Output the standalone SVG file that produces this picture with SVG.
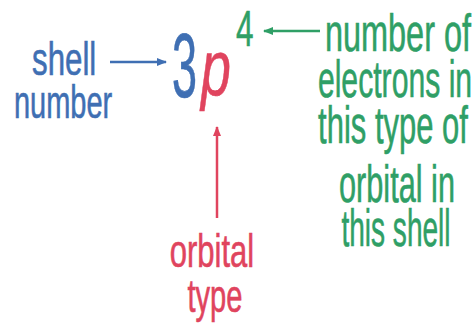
<svg xmlns="http://www.w3.org/2000/svg" width="475" height="327" viewBox="0 0 475 327">
<style>
text{font-family:"Liberation Sans",Arial,sans-serif;stroke-width:0.6}
.b{fill:#3f6fb3;stroke:#3f6fb3}.r{fill:#e0445e;stroke:#e0445e}.g{fill:#2f9f66;stroke:#2f9f66}
.lb{font-size:46px}
.lg{font-size:52px}
.lr{font-size:47px}
</style>
<defs>
<marker id="ab" markerWidth="11" markerHeight="10" refX="9" refY="5" orient="auto" markerUnits="userSpaceOnUse"><path d="M0,1 L10,5 L0,9 z" fill="#3f6fb3"/></marker>
<marker id="ag" markerWidth="11" markerHeight="10" refX="9" refY="5" orient="auto" markerUnits="userSpaceOnUse"><path d="M0,1 L10,5 L0,9 z" fill="#2f9f66"/></marker>
<marker id="ar" markerWidth="11" markerHeight="10" refX="9" refY="5" orient="auto" markerUnits="userSpaceOnUse"><path d="M0,1 L10,5 L0,9 z" fill="#e0445e"/></marker>
</defs>
<rect width="475" height="327" fill="#fff"/>
<g id="shell-label" class="b lb">
<text transform="translate(32,75) scale(0.68,1)">shell</text>
<text transform="translate(14,118) scale(0.63,1)">number</text>
</g>
<g id="formula">
<text class="b" font-size="90" transform="translate(172,97) scale(0.5,1)">3</text>
<text class="r" font-size="78" font-style="italic" transform="translate(201,95) scale(0.69,1)">p</text>
<text class="g" font-size="50" transform="translate(236,46) scale(0.63,1)">4</text>
</g>
<g id="electrons-label" class="g lg" text-anchor="middle">
<text transform="translate(398,51) scale(0.624,1)">number of</text>
<text transform="translate(395,97) scale(0.58,1)">electrons in</text>
<text transform="translate(393,143) scale(0.596,1)">this type of</text>
<text transform="translate(397,202) scale(0.59,1)">orbital in</text>
<text transform="translate(396,246) scale(0.54,1)">this shell</text>
</g>
<g id="orbital-label" class="r lr" text-anchor="middle">
<text transform="translate(212,267) scale(0.66,1)">orbital</text>
<text transform="translate(215,312) scale(0.62,1)">type</text>
</g>
<g id="connectors" stroke-width="2.5" fill="none">
<line x1="110" y1="62" x2="166" y2="62" stroke="#3f6fb3" marker-end="url(#ab)"/>
<line x1="320" y1="31" x2="264" y2="31" stroke="#2f9f66" marker-end="url(#ag)"/>
<line x1="217" y1="218" x2="217" y2="127" stroke="#e0445e" marker-end="url(#ar)"/>
</g>
</svg>
